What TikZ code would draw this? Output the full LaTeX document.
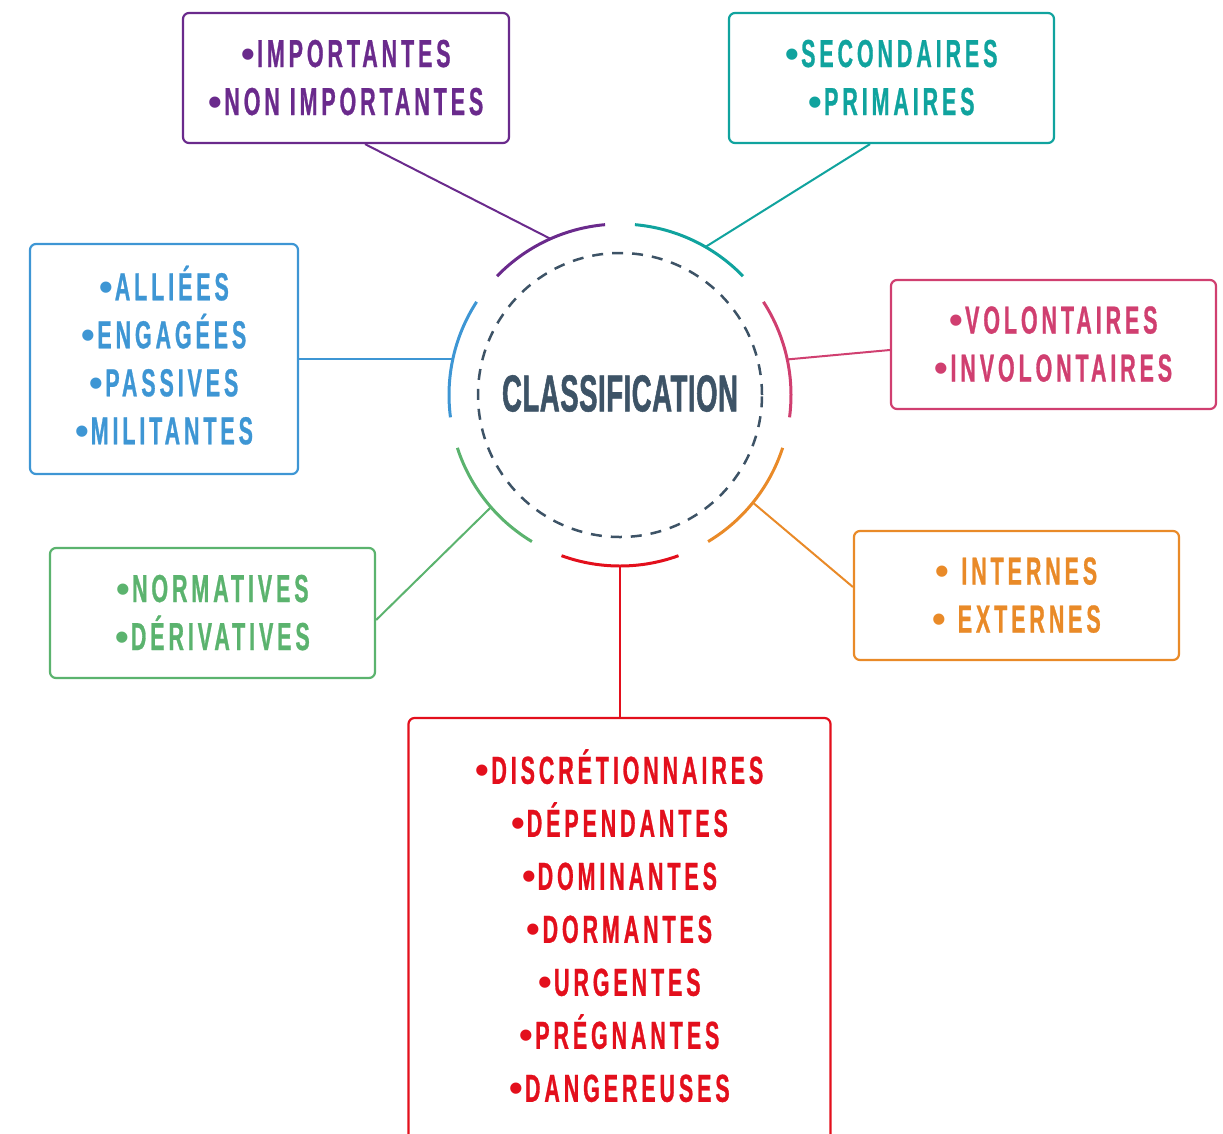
\documentclass[tikz,border=0pt]{standalone}
\usepackage{fontspec}
\usetikzlibrary{calc}

% condensed, tracked capitals for the category lists and the hub title
\newfontfamily\lblfont{Liberation Sans}[FakeStretch=0.55,LetterSpace=10,FakeBold=0.7]
\newfontfamily\hubfont{Liberation Sans}[FakeStretch=0.53,LetterSpace=1,FakeBold=1]
\newfontfamily\bulfont{Liberation Sans}

\definecolor{cPurple}{HTML}{6A2A8C}
\definecolor{cTeal}{HTML}{10A39E}
\definecolor{cBlue}{HTML}{3E96D4}
\definecolor{cPink}{HTML}{D03F70}
\definecolor{cOrange}{HTML}{E98A28}
\definecolor{cGreen}{HTML}{5BB36E}
\definecolor{cRed}{HTML}{E30F1C}
\definecolor{cHub}{HTML}{3D5366}

% uniform line heights so accented capitals do not shift a block
\newcommand\lstrut{\rule[-8pt]{0pt}{36pt}}
\newcommand\tstrut{\rule[-8pt]{0pt}{42pt}}
% round list bullet, not condensed, with a small gap after it
\newcommand\bul{{\bulfont •}\hspace{2pt}}

\begin{document}
\begin{tikzpicture}[x=1pt,y=-1pt,
  catbox/.style={draw=#1, text=#1, line width=2.2pt, rounded corners=6pt,
    align=center, inner sep=0pt,
    font=\lblfont\bfseries\fontsize{39}{48}\selectfont},
  arcline/.style={line width=3pt},
  link/.style={line width=2pt}]

\useasboundingbox (0,0) rectangle (1223,1133);
\clip (0,0) rectangle (1223,1133);

% hub
\node[circle, draw=cHub, dash pattern=on 11pt off 9pt, line width=2.5pt,
      minimum size=284pt, inner sep=0pt, text=cHub,
      font=\hubfont\bfseries\fontsize{52}{60}\selectfont]
  (hub) at (620,395) {\raisebox{3.5pt}{CLASSIFICATION}};

% category boxes
\node[catbox=cPurple, minimum width=326pt, minimum height=130pt] (imp) at (346,78)
  {\tstrut\bul IMPORTANTES\\\lstrut\bul NON IMPORTANTES};
\node[catbox=cTeal, minimum width=325pt, minimum height=130pt] (sec) at (891.5,78)
  {\tstrut\bul SECONDAIRES\\\lstrut\bul PRIMAIRES};
\node[catbox=cBlue, minimum width=268pt, minimum height=230pt] (all) at (164,359)
  {\lstrut\bul ALLIÉES\\\lstrut\bul ENGAGÉES\\\lstrut\bul PASSIVES\\\lstrut\bul MILITANTES};
\node[catbox=cPink, minimum width=325pt, minimum height=129pt] (vol) at (1053.5,344.5)
  {\tstrut\bul VOLONTAIRES\\\lstrut\bul INVOLONTAIRES};
\node[catbox=cOrange, minimum width=325pt, minimum height=129pt] (int) at (1016.5,595.5)
  {\tstrut\bul\ INTERNES\\\lstrut\bul\ EXTERNES};
\node[catbox=cGreen, minimum width=325pt, minimum height=130pt] (nor) at (212.5,613)
  {\tstrut\bul NORMATIVES\\\lstrut\bul DÉRIVATIVES};
\node[catbox=cRed, minimum width=422pt, minimum height=423pt,
      font=\lblfont\bfseries\fontsize{39}{53}\selectfont] (dis) at (619.5,929.5)
  {\lstrut\bul DISCRÉTIONNAIRES\\\lstrut\bul DÉPENDANTES\\\lstrut\bul DOMINANTES\\\lstrut\bul DORMANTES\\
   \lstrut\bul URGENTES\\\lstrut\bul PRÉGNANTES\\\lstrut\bul DANGEREUSES};

% coloured ring segments around the hub
\draw[arcline, cPurple] ($(hub.center)+(-95:171)$)  arc[start angle=-95,  end angle=-136, radius=171];
\draw[arcline, cTeal]   ($(hub.center)+(-85:171)$)  arc[start angle=-85,  end angle=-44,  radius=171];
\draw[arcline, cPink]   ($(hub.center)+(-33:171)$)  arc[start angle=-33,  end angle=7.5,  radius=171];
\draw[arcline, cOrange] ($(hub.center)+(18:171)$)   arc[start angle=18,   end angle=59,   radius=171];
\draw[arcline, cRed]    ($(hub.center)+(70:171)$)   arc[start angle=70,   end angle=110,  radius=171];
\draw[arcline, cGreen]  ($(hub.center)+(121:171)$)  arc[start angle=121,  end angle=162,  radius=171];
\draw[arcline, cBlue]   ($(hub.center)+(-147:171)$) arc[start angle=-147, end angle=-187.5, radius=171];

% attachment points on the ring
\coordinate (aP) at ($(hub.center)+(-114:171)$);
\coordinate (aT) at ($(hub.center)+(-60:171)$);
\coordinate (aB) at ($(hub.center)+(-168:171)$);
\coordinate (aK) at ($(hub.center)+(-12:171)$);
\coordinate (aO) at ($(hub.center)+(39:171)$);
\coordinate (aG) at ($(hub.center)+(139:171)$);
\coordinate (aR) at ($(hub.center)+(90:171)$);

% connectors
\draw[link, cPurple] (aP) -- ($(imp.south)+(19,0)$);
\draw[link, cTeal]   (aT) -- ($(sec.south)+(-21.5,0)$);
\draw[link, cBlue]   (aB) -- (aB -| all.east);
\draw[link, cPink]   (aK) -- ($(vol.west)+(0,5.5)$);
\draw[link, cOrange] (aO) -- ($(int.west)+(0,-8.5)$);
\draw[link, cGreen]  (aG) -- ($(nor.east)+(0,7)$);
\draw[link, cRed]    (aR) -- (aR |- dis.north);
\end{tikzpicture}
\end{document}
